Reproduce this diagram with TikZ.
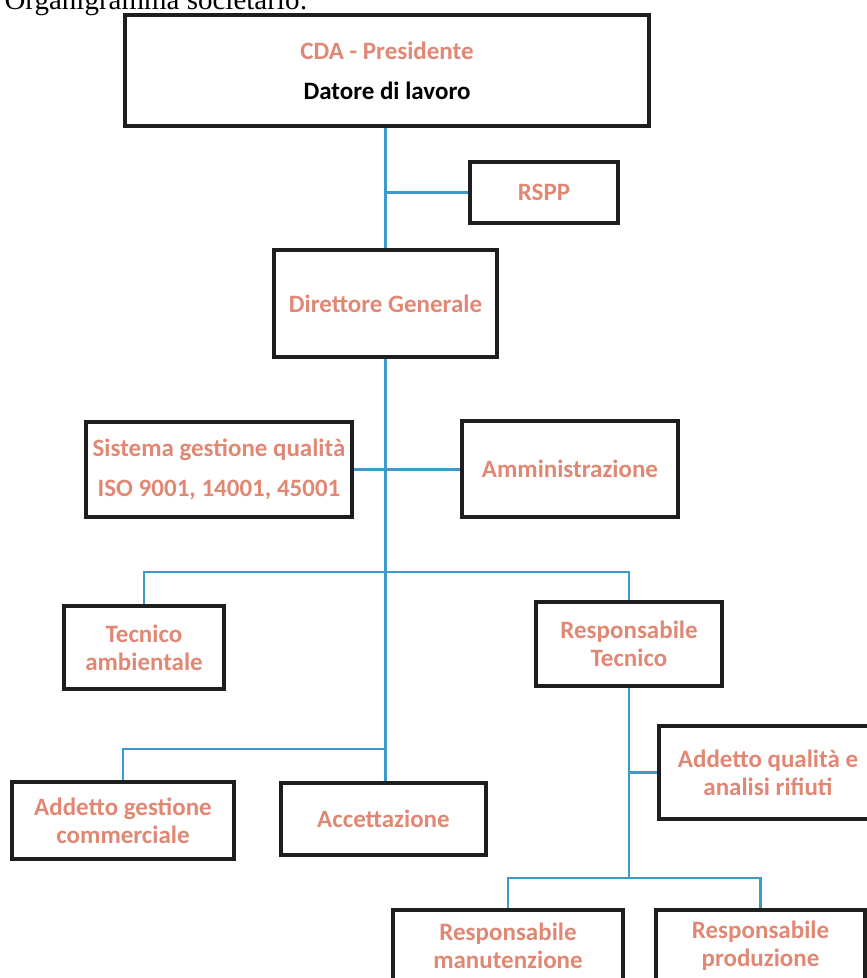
\documentclass[tikz,border=0pt]{standalone}
\usepackage{fontspec}
\newfontfamily\calib{Carlito}
\newfontfamily\timesf{Liberation Serif}
\definecolor{salmon}{RGB}{224,136,116}
\definecolor{linkblue}{RGB}{62,154,205}
\definecolor{boxline}{RGB}{30,30,30}

\begin{document}
\begin{tikzpicture}[x=1pt, y=-1pt,
role/.style = {draw=boxline, line width=3.5pt, fill=white, inner sep=0pt, align=center,
  text=salmon, font=\calib\bfseries\fontsize{25}{28}\selectfont},
link/.style = {linkblue, line width=2.2pt},
]

\useasboundingbox (0,0) rectangle (867,978);
\clip (0,0) rectangle (867,978);

% Title, cut by the page top
\node[anchor=base west, font=\timesf\fontsize{29}{29}\selectfont] (title) at (1,9) {Organigramma societario:};

% Draw boxes
\node[role, minimum width=524, minimum height=111] (cda) at (387,70.5)
  {CDA - Presidente\\[12pt] \textcolor{black}{Datore di lavoro}};
\node[role, minimum width=148, minimum height=61] (rspp) at (544,192.5) {RSPP};
\node[role, minimum width=223, minimum height=107] (dg) at (385.5,303.5) {Direttore Generale};
\node[role, minimum width=266, minimum height=95] (sgq) at (219,469.5)
  {Sistema gestione qualità\\[12pt] ISO 9001, 14001, 45001};
\node[role, minimum width=216, minimum height=96] (amm) at (570,469) {Amministrazione};
\node[role, minimum width=160, minimum height=83] (tecamb) at (144,647.5) {Tecnico\\ ambientale};
\node[role, minimum width=186, minimum height=84] (resptec) at (629,644) {Responsabile\\ Tecnico};
\node[role, minimum width=218, minimum height=93] (addqual) at (768,772.5) {Addetto qualità e\\ analisi rifiuti};
\node[role, minimum width=222, minimum height=77] (addcomm) at (123,820.5) {Addetto gestione\\ commerciale};
\node[role, minimum width=205, minimum height=72] (acc) at (383.5,819) {Accettazione};
\node[role, minimum width=230, minimum height=72] (respman) at (508,946) {Responsabile\\ manutenzione};
\node[role, minimum width=209, minimum height=72] (respprod) at (760.5,946) {Responsabile\\ produzione};

% Split points
\coordinate (split1) at (385.5,572);
\coordinate (split2) at (385.5,749);
\coordinate (split3) at (629,878);

% Draw connectors
\draw[link] (dg.north |- cda.south) -- (dg.north);
\draw[link] (dg.north |- rspp.west) -- (rspp.west);
\draw[link] (dg.south) -- (dg.south |- acc.north);
\draw[link] (sgq.east) -- (sgq.east -| amm.west);
\draw[link] (tecamb.north) |- (split1) -| (resptec.north);
\draw[link] (addcomm.north) |- (split2);
\draw[link] (resptec.south) -- (split3);
\draw[link] (resptec.south |- addqual.west) -- (addqual.west);
\draw[link] (respman.north) |- (split3) -| (respprod.north);

\end{tikzpicture}
\end{document}
